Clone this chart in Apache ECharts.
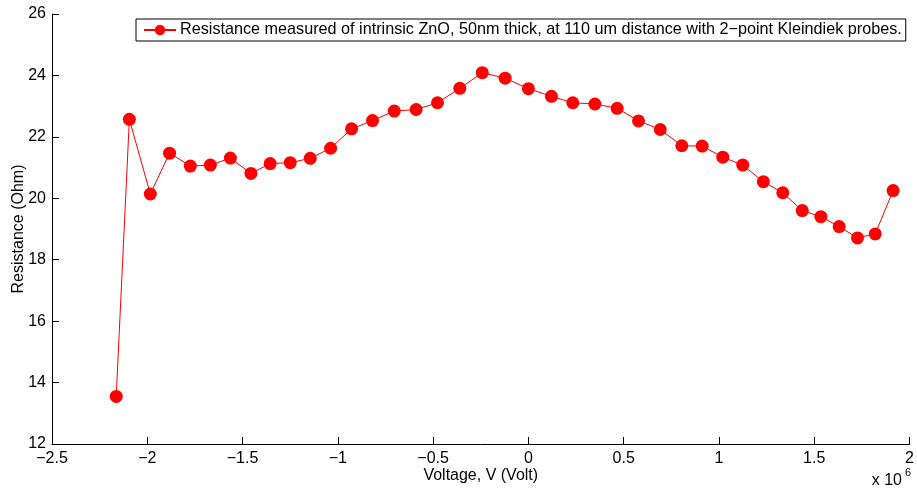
<!DOCTYPE html>
<html>
<head>
<meta charset="utf-8">
<script src="https://cdn.jsdelivr.net/npm/echarts@6/dist/echarts.min.js"></script>
<style>
  html, body { margin: 0; padding: 0; background: #fff; }
  #chart { width: 917px; height: 492px; }
</style>
</head>
<body>
<div id="chart"></div>
<script>
// Bias voltage (V) and measured resistance (Ohm)
const voltage = [
  -2.163e6, -2.094e6, -1.984e6, -1.883e6, -1.774e6, -1.669e6, -1.564e6, -1.456e6,
  -1.355e6, -1.250e6, -1.145e6, -1.038e6, -0.928e6, -0.818e6, -0.704e6, -0.589e6,
  -0.477e6, -0.360e6, -0.242e6, -0.122e6, 0.000e6, 0.121e6, 0.233e6, 0.349e6,
  0.466e6, 0.578e6, 0.692e6, 0.805e6, 0.912e6, 1.020e6, 1.125e6, 1.233e6,
  1.335e6, 1.437e6, 1.535e6, 1.631e6, 1.727e6, 1.820e6, 1.914e6
];
const resistance = [
  13.55, 22.57, 20.14, 21.47, 21.05, 21.08, 21.31, 20.81,
  21.13, 21.16, 21.30, 21.63, 22.26, 22.53, 22.84, 22.89,
  23.11, 23.58, 24.09, 23.91, 23.57, 23.32, 23.11, 23.07,
  22.93, 22.52, 22.24, 21.71, 21.70, 21.34, 21.08, 20.54,
  20.18, 19.60, 19.40, 19.08, 18.71, 18.84, 20.25
];
const xTicks = { min: -2.5e6, max: 2e6, step: 0.5e6 };
const yTicks = { min: 12, max: 26, step: 2 };
const seriesName = 'Resistance measured of intrinsic ZnO, 50nm thick, at 110 um distance with 2\u2212point Kleindiek probes.';

const FONT = 'Liberation Sans, Arial, Helvetica, sans-serif';
const FS = 16;
const fmtNum = v => {
  const s = String(Math.round(v * 1000) / 1000);
  return s.replace('-', '\u2212');
};

const chart = echarts.init(document.getElementById('chart'), null, { renderer: 'canvas' });
chart.setOption({
  animation: false,
  backgroundColor: '#ffffff',
  textStyle: { fontFamily: FONT },
  grid: { left: 52, right: 7.5, top: 14, bottom: 48, containLabel: false, outerBoundsMode: 'none' },
  legend: {
    left: 136, top: 19,
    padding: [3, 4, 3, 7],
    borderColor: '#000', borderWidth: 1,
    itemWidth: 32, itemHeight: 13,
    textStyle: { fontFamily: FONT, fontSize: 16.2, color: '#000', padding: [0, 0, 0, -1] },
    data: [seriesName]
  },
  xAxis: {
    type: 'value',
    min: xTicks.min, max: xTicks.max, interval: xTicks.step,
    name: 'Voltage, V (Volt)',
    nameLocation: 'middle', nameGap: 24, nameMoveOverlap: false,
    nameTextStyle: { fontFamily: FONT, fontSize: FS, color: '#000' },
    axisLine: { onZero: false, lineStyle: { color: '#000', width: 1 } },
    axisTick: { inside: true, length: 7, lineStyle: { color: '#000' } },
    axisLabel: { margin: 7, fontFamily: FONT, fontSize: FS, color: '#000', formatter: v => fmtNum(v / 1e6) },
    splitLine: { show: false }
  },
  yAxis: {
    type: 'value',
    min: yTicks.min, max: yTicks.max, interval: yTicks.step,
    name: 'Resistance (Ohm)',
    nameLocation: 'middle', nameGap: 25, nameMoveOverlap: false,
    nameTextStyle: { fontFamily: FONT, fontSize: FS, color: '#000' },
    axisLine: { show: true, onZero: false, lineStyle: { color: '#000', width: 1 } },
    axisTick: { show: true, inside: true, length: 7, lineStyle: { color: '#000' } },
    axisLabel: { margin: 6, fontFamily: FONT, fontSize: FS, color: '#000', formatter: v => fmtNum(v) },
    splitLine: { show: false }
  },
  graphic: [
    { type: 'text', right: 15, bottom: 3, style: { text: 'x 10', fontFamily: FONT, fontSize: FS, fill: '#000' } },
    { type: 'text', right: 6, bottom: 14, style: { text: '6', fontFamily: FONT, fontSize: 11, fill: '#000' } }
  ],
  series: [{
    name: seriesName,
    type: 'line',
    data: voltage.map((v, i) => [v, resistance[i]]),
    symbol: 'circle',
    symbolSize: 13,
    showAllSymbol: true,
    lineStyle: { color: '#ff0000', width: 1 },
    itemStyle: { color: '#ff0000' }
  }]
});
</script>
</body>
</html>
